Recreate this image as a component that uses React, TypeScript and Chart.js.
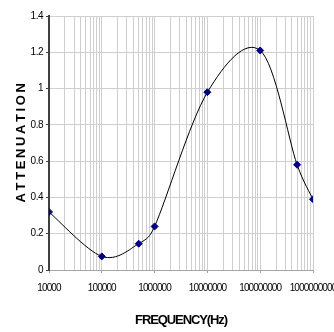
import React, { useEffect, useRef } from "react";
import { Chart, registerables } from "chart.js";

Chart.register(...registerables);

const frequencies = [10000, 100000, 500000, 1000000, 10000000, 100000000, 500000000, 1000000000];
const attenuation = [0.32, 0.075, 0.145, 0.24, 0.98, 1.21, 0.58, 0.39];
const yTicks = [0, 0.2, 0.4, 0.6, 0.8, 1, 1.2, 1.4];
const xTitle = "FREQUENCY(Hz)";
const yTitle = "A T T E N U A T I O N";

const SANS = '"Liberation Sans", Arial, sans-serif';

const isMajor = (v: number) => {
  const l = Math.log10(v);
  return Math.abs(l - Math.round(l)) < 1e-9;
};

// Wrap a scale drawing method so its text is drawn with a given letter spacing
const withSpacing = (scale: any, method: string, spacing: string) => {
  const key = "__patched_" + method;
  if (scale[key]) return;
  const orig = scale[method];
  scale[method] = function (...args: any[]) {
    const ctx = this.ctx;
    ctx.save();
    ctx.letterSpacing = spacing;
    orig.apply(this, args);
    ctx.restore();
  };
  scale[key] = true;
};

// Spreadsheet-style smoothing of the line through the library's own point positions
const smoothPlugin = {
  id: "sheetSmooth",
  beforeDatasetDraw(chart: any, args: any) {
    const meta = args.meta;
    const line = meta.dataset;
    if (!line || !line.updateControlPoints) return;
    line.updateControlPoints(chart.chartArea, "x");
    const pts = meta.data;
    const n = pts.length;
    for (let i = 0; i < n; i++) {
      const p = pts[i];
      const prev = pts[Math.max(i - 1, 0)];
      const next = pts[Math.min(i + 1, n - 1)];
      const tx = (next.x - prev.x) / 6;
      const ty = (next.y - prev.y) / 6;
      const len = Math.hypot(tx, ty);
      const dPrev = Math.hypot(p.x - prev.x, p.y - prev.y) / 2;
      const dNext = Math.hypot(next.x - p.x, next.y - p.y) / 2;
      const sPrev = len > dPrev && len > 0 ? dPrev / len : 1;
      const sNext = len > dNext && len > 0 ? dNext / len : 1;
      p.cp1x = p.x - tx * sPrev;
      p.cp1y = p.y - ty * sPrev;
      p.cp2x = p.x + tx * sNext;
      p.cp2y = p.y + ty * sNext;
    }
  },
};

export default function App() {
  const ref = useRef<HTMLCanvasElement>(null);
  useEffect(() => {
    if (!ref.current) return;
    const chart = new Chart(ref.current, {
      type: "line",
      data: {
        datasets: [
          {
            data: frequencies.map((f, i) => ({ x: f, y: attenuation[i] })),
            borderColor: "#000000",
            borderWidth: 1,
            tension: 0.4,
            pointStyle: "rectRot",
            pointRadius: 3.5,
            pointBackgroundColor: "#000080",
            pointBorderColor: "#000080",
            pointBorderWidth: 1,
            fill: false,
          },
        ],
      },
      plugins: [smoothPlugin],
      options: {
        responsive: false,
        animation: false,
        devicePixelRatio: 1,
        layout: { padding: { top: 16, right: 21, left: 0, bottom: 0 } },
        plugins: { legend: { display: false }, tooltip: { enabled: false } },
        scales: {
          x: {
            type: "logarithmic",
            min: 10000,
            max: 1000000000,
            afterBuildTicks: (scale: any) => {
              const t: any[] = [];
              for (let e = 4; e < 9; e++) {
                for (let m = 1; m <= 9; m++) t.push({ value: m * Math.pow(10, e) });
              }
              t.push({ value: 1e9 });
              scale.ticks = t;
            },
            afterFit: (scale: any) => {
              scale.height = 62;
              scale.paddingRight = 0;
              scale.paddingLeft = 0;
              withSpacing(scale, "drawLabels", "-0.9px");
              withSpacing(scale, "drawTitle", "-1.1px");
            },
            ticks: {
              autoSkip: false,
              maxRotation: 0,
              minRotation: 0,
              padding: 9,
              color: "#000000",
              font: { family: SANS, size: 10 },
              callback: (v: any) => (isMajor(Number(v)) ? String(Math.round(Number(v))) : ""),
            },
            grid: {
              color: "#cfcfcf",
              lineWidth: 1,
              drawTicks: true,
              tickLength: 3,
              tickColor: (ctx: any) => (ctx.tick && isMajor(ctx.tick.value) ? "#a0a0a0" : "rgba(0,0,0,0)"),
            },
            border: { color: "#a6a6a6", width: 1 },
            title: {
              display: true,
              text: xTitle,
              color: "#000000",
              font: { family: SANS, size: 13, weight: "bold" },
              padding: { top: 0, bottom: 4 },
            },
          },
          y: {
            min: 0,
            max: 1.4,
            afterBuildTicks: (scale: any) => {
              scale.ticks = yTicks.map((v) => ({ value: v }));
            },
            afterFit: (scale: any) => {
              scale.width = 49;
              withSpacing(scale, "drawLabels", "-0.5px");
              withSpacing(scale, "drawTitle", "-0.5px");
            },
            ticks: {
              padding: 3,
              color: "#000000",
              font: { family: SANS, size: 10 },
              callback: (v: any) => String(Math.round(Number(v) * 10) / 10),
            },
            grid: {
              color: "#cfcfcf",
              lineWidth: 1,
              drawTicks: true,
              tickLength: 3,
              tickColor: "#404040",
            },
            border: { color: "#404040", width: 2 },
            title: {
              display: true,
              text: yTitle,
              color: "#000000",
              font: { family: SANS, size: 13, weight: "bold" },
              padding: { top: 14, bottom: 0 },
            },
          },
        },
      },
    });
    return () => chart.destroy();
  }, []);
  return (
    <div style={{ position: "absolute", left: 0, top: 0, width: 334, height: 332, background: "#ffffff" }}>
      <canvas ref={ref} width={334} height={332} />
    </div>
  );
}
